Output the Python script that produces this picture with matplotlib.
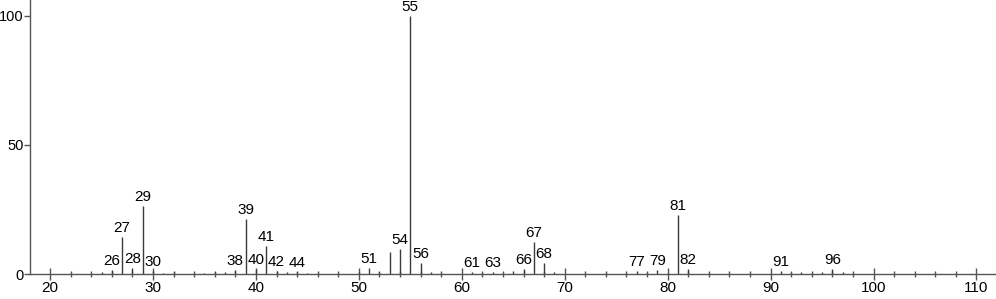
import numpy as np
import matplotlib.pyplot as plt
from matplotlib.ticker import MultipleLocator

plt.rcParams['font.family'] = ['Liberation Sans', 'DejaVu Sans']

# m/z and relative intensity
mz = [25, 26, 27, 28, 29, 30, 31, 32, 35, 36, 37, 38, 39, 40, 41, 42, 43, 44, 45,
      46, 50, 51, 52, 53, 54, 55, 56, 57, 58, 61, 62, 63, 65, 66, 67, 68, 69,
      74, 77, 78, 79, 80, 81, 82, 91, 92, 93, 94, 95, 96, 97]
intensity = [0.8, 1.5, 14.3, 2.3, 26.4, 1.0, 0.4, 0.6, 0.5, 0.6, 0.7, 1.6, 21.3, 2.1, 10.9, 1.2, 0.7, 0.8, 0.4,
             0.3, 0.6, 2.3, 0.9, 8.6, 9.7, 100, 4.3, 0.6, 0.3, 0.8, 0.5, 0.8, 1.0, 2.1, 12.4, 4.3, 0.6,
             0.3, 1.0, 0.4, 1.5, 0.5, 22.9, 2.0, 1.0, 0.5, 0.6, 0.5, 0.6, 2.1, 0.7]

# peaks that carry a label
labeled = [26, 27, 28, 29, 30, 38, 39, 40, 41, 42, 44, 51, 54, 55, 56,
           61, 63, 66, 67, 68, 77, 79, 81, 82, 91, 96]

fig = plt.figure(figsize=(9.96, 2.99), dpi=100)
ax = fig.add_axes([30 / 996, 25 / 299, 966 / 996, 274 / 299])

ax.vlines(mz, 0, intensity, color='#3a3a3a', linewidth=1.0)

for m, h in zip(mz, intensity):
    if m in labeled:
        ax.text(m, h + 0.8, str(m), ha='center', va='bottom', fontsize=11)

ax.set_xlim(18.05, 111.9)
ax.set_ylim(0, 106.2)

ax.xaxis.set_major_locator(MultipleLocator(10))
ax.xaxis.set_minor_locator(MultipleLocator(2))
ax.set_yticks([0, 50, 100])

for side in ['top', 'right']:
    ax.spines[side].set_visible(False)
for side in ['left', 'bottom']:
    ax.spines[side].set_color('#555555')
    ax.spines[side].set_linewidth(1.0)

ax.tick_params(axis='x', which='major', direction='inout', length=8, width=1,
               color='#555555', labelsize=11, pad=1)
ax.tick_params(axis='x', which='minor', direction='inout', length=4, width=1,
               color='#555555')
ax.tick_params(axis='y', which='major', direction='out', length=4, width=1,
               color='#555555', labelsize=10.5, pad=0.5)

fig.savefig('out.png', dpi=100)
plt.close()
